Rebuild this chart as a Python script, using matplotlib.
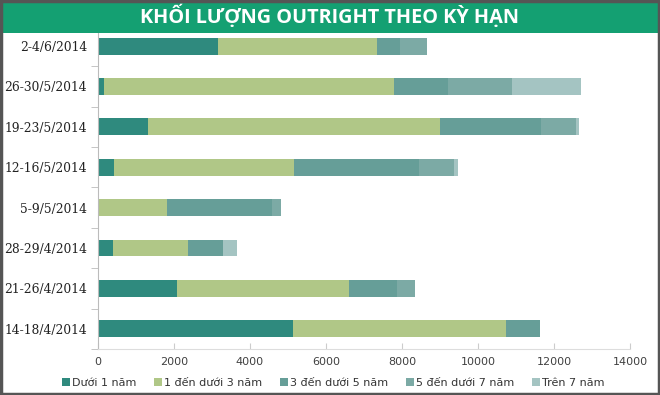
import matplotlib.pyplot as plt
from matplotlib.patches import Rectangle
import numpy as np

plt.rcParams['font.family'] = ['DejaVu Sans']

weeks = ['14-18/4/2014', '21-26/4/2014', '28-29/4/2014', '5-9/5/2014',
         '12-16/5/2014', '19-23/5/2014', '26-30/5/2014', '2-4/6/2014']
duoi_1 = [5120, 2070, 400, 0, 430, 1310, 170, 3170]
tu_1_3 = [5610, 4530, 1970, 1820, 4720, 7690, 7620, 4180]
tu_3_5 = [900, 1270, 920, 2760, 3290, 2650, 1430, 610]
tu_5_7 = [0, 470, 0, 240, 920, 940, 1680, 700]
tren_7 = [0, 0, 360, 0, 110, 60, 1800, 0]

series = [duoi_1, tu_1_3, tu_3_5, tu_5_7, tren_7]
names = ['Dưới 1 năm', '1 đến dưới 3 năm', '3 đến dưới 5 năm',
         '5 đến dưới 7 năm', 'Trên 7 năm']
colors = ['#2f8a7e', '#b0c787', '#669e98', '#7caaa5', '#a4c4c2']

fig = plt.figure(figsize=(6.6, 3.95), dpi=100)
ax = fig.add_axes([0.1485, 0.1165, 0.806, 0.818])

y = np.arange(len(weeks))
left = np.zeros(len(weeks))
for vals, name, c in zip(series, names, colors):
    ax.barh(y, vals, left=left, height=0.42, color=c, label=name)
    left += np.array(vals)

ax.set_xlim(0, 14000)
ax.set_ylim(-0.5, len(weeks) - 0.5)
ax.set_xticks(range(0, 14001, 2000))
ax.set_yticks(y)
ax.set_yticklabels(weeks, family='DejaVu Serif')
ax.set_yticks(np.arange(-0.5, len(weeks), 1), minor=True)
ax.tick_params(axis='y', which='major', length=0, pad=8, labelsize=8.8, labelcolor='#222222')
ax.tick_params(axis='y', which='minor', length=5, color='#bbbbbb', direction='out')
ax.tick_params(axis='x', length=4, color='#cccccc', direction='in', labelsize=8, labelcolor='#404040', pad=6)
for s in ['top', 'right']:
    ax.spines[s].set_visible(False)
ax.spines['left'].set_color('#bbbbbb')
ax.spines['bottom'].set_color('#dddddd')

# title banner
fig.patches.append(Rectangle((0, 1 - 33 / 395), 1, 33 / 395, transform=fig.transFigure,
                             facecolor='#14a072', edgecolor='none', zorder=5))
fig.text(0.5, 1 - 16.5 / 395, 'KHỐI LƯỢNG OUTRIGHT THEO KỲ HẠN', ha='center', va='center',
         color='white', fontsize=14.3, fontweight='bold', family=['Open Sans', 'DejaVu Sans'],
         zorder=6)

# frame
fig.patches.append(Rectangle((0.002, 0.003), 0.996, 0.994, transform=fig.transFigure,
                             facecolor='none', edgecolor='#555555', linewidth=2.5, zorder=7))

fig.legend(loc='center', bbox_to_anchor=(0.505, 1 - 383 / 395), ncol=5, frameon=False,
           fontsize=8, handlelength=0.7, handleheight=0.7, handletextpad=0.2,
           columnspacing=1.6, labelcolor='#333333')

fig.savefig('out.png', dpi=100)
